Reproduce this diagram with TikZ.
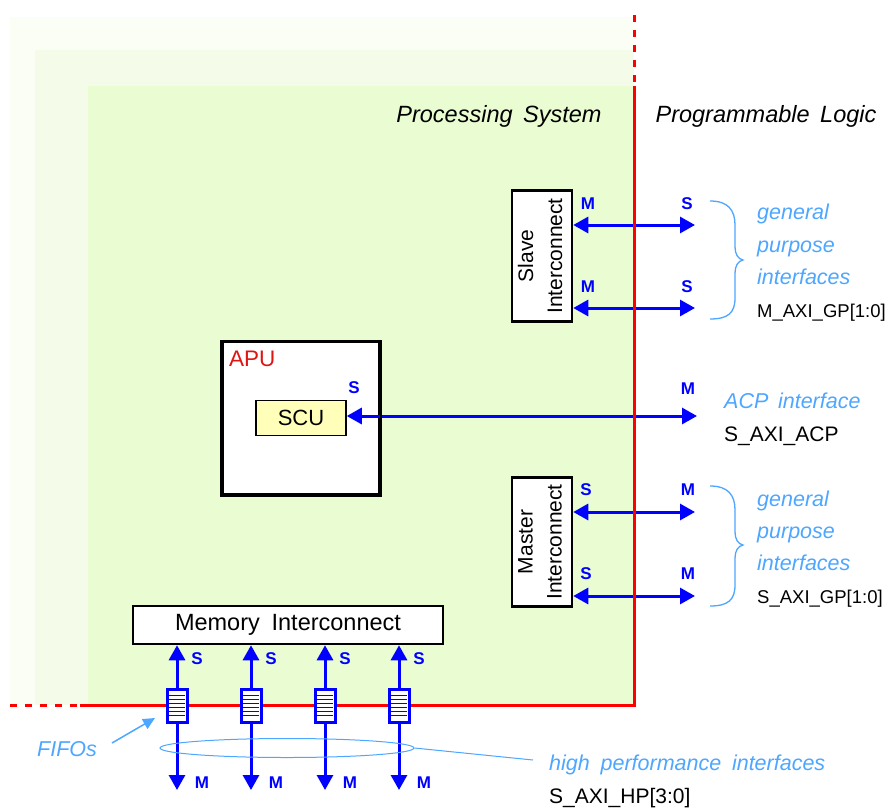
\documentclass[tikz,border=0pt]{standalone}
\usepackage{fontspec}
\setmainfont{Liberation Sans}
\usetikzlibrary{arrows.meta,shapes.geometric}
\definecolor{psouter}{RGB}{251,254,245}
\definecolor{psmid}{RGB}{244,252,233}
\definecolor{psinner}{RGB}{234,252,210}
\definecolor{busblue}{RGB}{0,0,255}
\definecolor{noteblue}{RGB}{77,166,255}
\definecolor{scuyellow}{RGB}{255,255,185}
\definecolor{edgered}{RGB}{255,0,0}
\definecolor{apured}{RGB}{225,20,20}
\pgfdeclarelayer{bg}
\pgfdeclarelayer{wires}
\pgfsetlayers{bg,wires,main}

\begin{document}
\begin{tikzpicture}[x=1pt,y=-1pt,
  box/.style={draw=black, line width=2.5pt, fill=white, inner sep=0pt},
  bus/.style={draw=busblue, line width=3pt},
  both/.style={bus, {Triangle[length=15pt,width=16pt]}-{Triangle[length=15pt,width=16pt]}},
  single/.style={bus, -{Triangle[length=15pt,width=16pt]}},
  port/.style={text=busblue, font=\fontsize{17}{17}\selectfont\bfseries, inner sep=0pt},
  note/.style={text=noteblue, font=\fontsize{21.5}{24}\selectfont\itshape, anchor=base west, inner sep=0pt},
  sig/.style={text=black, font=\fontsize{18.5}{20}\selectfont, anchor=base west, inner sep=0pt},
  bigsig/.style={sig, font=\fontsize{21}{22}\selectfont},
  title/.style={text=black, font=\fontsize{23.5}{24}\selectfont\itshape, inner sep=0pt},
  vlabel/.style={rotate=90, align=center, font=\fontsize{21}{29}\selectfont, inner sep=0pt},
  fifo/.style={draw=busblue, line width=3pt, fill=white, minimum width=20pt, minimum height=33pt, inner sep=0pt},
  brace/.style={draw=noteblue, line width=1.3pt},
  edge/.style={draw=edgered, line width=3pt},
  edgedash/.style={edge, dash pattern=on 7pt off 8pt}
]
\useasboundingbox (0,0) rectangle (893,808);

% nested shading of the processing system region
\begin{pgfonlayer}{bg}
  \fill[psouter] (10,17) rectangle (634,705);
  \fill[psmid] (35,50) rectangle (634,705);
  \fill[psinner] (88,86) rectangle (634,705);
\end{pgfonlayer}

% region titles
\node[title] (pstitle) at (499,116) {Processing\hspace{0.45em}System};
\node[title] (pltitle) at (766,116) {Programmable\hspace{0.45em}Logic};

% blocks
\node[box, minimum width=60pt, minimum height=131pt] (slave) at (542,256) {};
\node[vlabel] (slavetxt) at ([xshift=-2pt]slave.center) {Slave\\Interconnect};
\node[box, minimum width=60pt, minimum height=129pt] (master) at (542,542) {};
\node[vlabel] (mastertxt) at ([xshift=-2pt]master.center) {Master\\Interconnect};
\begin{pgfonlayer}{wires}
  \node[box] (apu) [minimum width=157pt, minimum height=152pt] at (301,418) {};
\end{pgfonlayer}
\node[text=apured, font=\fontsize{22.5}{23}\selectfont, anchor=west, inner sep=0pt] (aputxt) at (229,359) {APU};
\node[draw=black, line width=1.5pt, fill=scuyellow, minimum width=90pt, minimum height=35pt, inner sep=0pt,
      font=\fontsize{22}{24}\selectfont] (scu) at (301,418) {SCU};
\node[box, minimum width=310pt, minimum height=38pt, font=\fontsize{23.5}{24}\selectfont] (mem) at (288,625)
      {Memory\hspace{0.5em}Interconnect};

% free ends of the interface buses
\coordinate (gpm0) at (695,225);
\coordinate (gpm1) at (695,308);
\coordinate (acp)  at (697,416);
\coordinate (gps0) at (695,512);
\coordinate (gps1) at (695,596);

\begin{pgfonlayer}{wires}
  \draw[both] (slave.east |- gpm0) -- (gpm0);
  \draw[both] (slave.east |- gpm1) -- (gpm1);
  \draw[both] (scu.east |- acp) -- (acp);
  \draw[both] (master.east |- gps0) -- (gps0);
  \draw[both] (master.east |- gps1) -- (gps1);
  % PS / PL boundary
  \draw[edgedash] (634,15) -- (634,86);
  \draw[edge] (634,86) -- (634,705) -- (80,705);
  \draw[edgedash] (10,705) -- (80,705);
\end{pgfonlayer}
% APU outline over the bus that leaves it
\draw[black, line width=2.5pt] (apu.north west) rectangle (apu.south east);

% port roles
\node[port] (m0) at (588,204) {M};
\node[port] (s0) at (687,204) {S};
\node[port] (m1) at (588,287) {M};
\node[port] (s1) at (687,287) {S};
\node[port] (sacp) at (354,388) {S};
\node[port] (macp) at (688,389) {M};
\node[port] (s2) at (586,490) {S};
\node[port] (m2) at (688,490) {M};
\node[port] (s3) at (586,574) {S};
\node[port] (m3) at (688,574) {M};

% braces and interface notes
\draw[brace] (710,201) .. controls (728,201) and (735,210) .. (735,225) -- (735,247)
  .. controls (735,254) and (738,259) .. (743,260) .. controls (738,261) and (735,266) .. (735,273)
  -- (735,298) .. controls (735,313) and (728,319) .. (710,319);
\draw[brace] (710,486) .. controls (728,486) and (735,495) .. (735,510) -- (735,532)
  .. controls (735,539) and (738,544) .. (743,545) .. controls (738,546) and (735,551) .. (735,558)
  -- (735,585) .. controls (735,600) and (728,606) .. (710,606);

\node[note] (g0a) at (757,219) {general};
\node[note] (g0b) at (757,252) {purpose};
\node[note] (g0c) at (757,284) {interfaces};
\node[sig]  (g0d) at (757,317) {M\_AXI\_GP[1:0]};
\node[note] (acpa) at (724,408) {ACP\hspace{0.45em}interface};
\node[bigsig] (acpb) at (724,441) {S\_AXI\_ACP};
\node[note] (g1a) at (757,506) {general};
\node[note] (g1b) at (757,538) {purpose};
\node[note] (g1c) at (757,570) {interfaces};
\node[sig]  (g1d) at (757,603) {S\_AXI\_GP[1:0]};

% high performance ports with their FIFOs
\foreach \i/\x in {1/177,2/251,3/325,4/399} {
  \node[fifo] (f\i) at (\x,705.5) {};
  \foreach \d in {-10,-6,-2,2,6,10} {
    \draw[busblue, line width=1.3pt] (\x-8,705.5+\d) -- (\x+8,705.5+\d);
  }
  \coordinate (hp\i) at (\x,790);
  \draw[single] (f\i.north) -- (mem.south -| f\i);
  \draw[single] (f\i.south) -- (hp\i);
  \node[port] (ms\i) at (\x+20,659) {S};
  \node[port] (mm\i) at (\x+25,783) {M};
}

\node[draw=noteblue, line width=1pt, ellipse, minimum width=254pt, minimum height=19pt, inner sep=0pt] (hpgroup) at (287,748) {};
\coordinate (hpleader) at (533,760);
\draw[noteblue, line width=1pt] (hpgroup.east) -- (hpleader);
\node[note] (hpa) at (549,770) {high\hspace{0.5em}performance\hspace{0.5em}interfaces};
\node[bigsig] (hpb) at (549,803) {S\_AXI\_HP[3:0]};

\node[note, anchor=center] (fifos) at (67,749) {FIFOs};
\coordinate (fifotip) at (155,718);
\draw[noteblue, line width=1.5pt, -{Triangle[length=12pt,width=11pt]}] (112,743) -- (fifotip);
\end{tikzpicture}
\end{document}
